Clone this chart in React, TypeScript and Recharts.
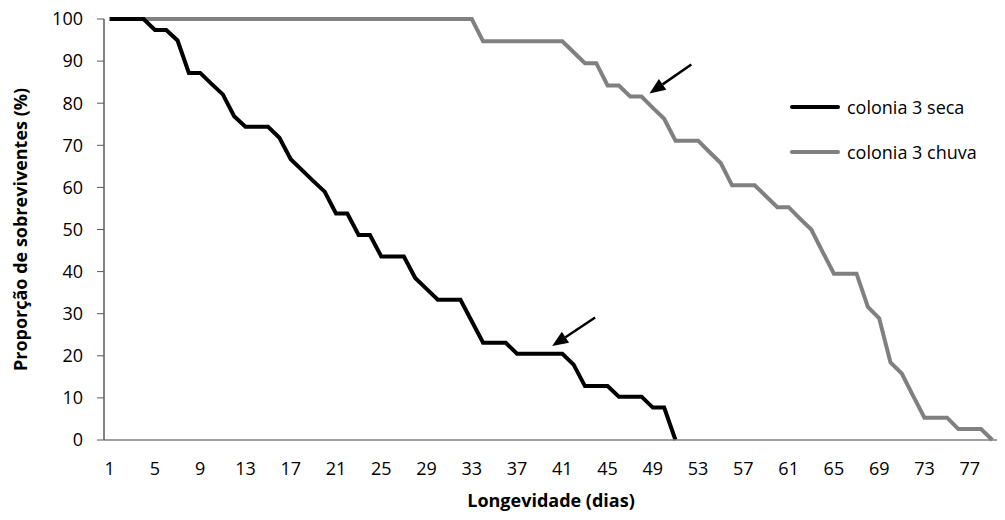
import { Line, LineChart, ReferenceLine, XAxis, YAxis } from "recharts";

// dias (categorias do eixo x)
const days = Array.from({ length: 79 }, (_, i) => i + 1);

// proporção de sobreviventes (%) - colonia 3 seca
const seca = [
  100, 100, 100, 100, 97.4, 97.4, 94.9, 87.2, 87.2, 84.6, 82.1, 76.9, 74.4, 74.4, 74.4, 71.8, 66.7, 64.1, 61.5, 59.0,
  53.8, 53.8, 48.7, 48.7, 43.6, 43.6, 43.6, 38.5, 35.9, 33.3, 33.3, 33.3, 28.2, 23.1, 23.1, 23.1, 20.5, 20.5, 20.5, 20.5,
  20.5, 17.9, 12.8, 12.8, 12.8, 10.3, 10.3, 10.3, 7.7, 7.7, 0,
];

// proporção de sobreviventes (%) - colonia 3 chuva
const chuva = [
  100, 100, 100, 100, 100, 100, 100, 100, 100, 100, 100, 100, 100, 100, 100, 100, 100, 100, 100, 100,
  100, 100, 100, 100, 100, 100, 100, 100, 100, 100, 100, 100, 100, 94.7, 94.7, 94.7, 94.7, 94.7, 94.7, 94.7,
  94.7, 92.1, 89.5, 89.5, 84.2, 84.2, 81.6, 81.6, 78.9, 76.3, 71.1, 71.1, 71.1, 68.4, 65.8, 60.5, 60.5, 60.5, 57.9, 55.3,
  55.3, 52.6, 50.0, 44.7, 39.5, 39.5, 39.5, 31.6, 28.9, 18.4, 15.8, 10.5, 5.3, 5.3, 5.3, 2.6, 2.6, 2.6, 0,
];

const xTicks = [1, 5, 9, 13, 17, 21, 25, 29, 33, 37, 41, 45, 49, 53, 57, 61, 65, 69, 73, 77];
const yTicks = [0, 10, 20, 30, 40, 50, 60, 70, 80, 90, 100];

// setas de anotação, em coordenadas de dados (dia, %)
const arrows = [
  { from: { x: 52.4, y: 89.2 }, to: { x: 48.7, y: 82.3 } },
  { from: { x: 43.9, y: 29.1 }, to: { x: 40.1, y: 22.3 } },
];

const data = days.map((day, i) => ({
  day,
  seca: i < seca.length ? seca[i] : null,
  chuva: chuva[i],
}));

const FONT = "'Open Sans', 'Noto Sans', sans-serif";

function arrowShape(props: any) {
  const { x1, y1, x2, y2 } = props;
  const ang = Math.atan2(y2 - y1, x2 - x1);
  const len = 16;
  const half = 6.5;
  const bx = x2 - len * Math.cos(ang);
  const by = y2 - len * Math.sin(ang);
  const px = -Math.sin(ang) * half;
  const py = Math.cos(ang) * half;
  return (
    <g>
      <line x1={x1} y1={y1} x2={bx} y2={by} stroke="#000" strokeWidth={2.5} />
      <polygon points={`${x2},${y2} ${bx + px},${by + py} ${bx - px},${by - py}`} fill="#000" />
    </g>
  );
}

function LegendBox() {
  const items = [
    { label: "colonia 3 seca", color: "#000000", top: 95 },
    { label: "colonia 3 chuva", color: "#808080", top: 140 },
  ];
  return (
    <>
      {items.map((it) => (
        <div
          key={it.label}
          style={{
            position: "absolute",
            top: it.top,
            left: 790,
            display: "flex",
            alignItems: "center",
            height: 24,
            fontFamily: FONT,
            fontSize: 18,
          }}
        >
          <div style={{ width: 50, height: 4, background: it.color, borderRadius: 2, marginRight: 7 }} />
          <span style={{ color: "#000", whiteSpace: "nowrap" }}>{it.label}</span>
        </div>
      ))}
    </>
  );
}

export default function App() {
  return (
    <div style={{ margin: -8, width: 1005, height: 520, background: "#fff", position: "relative" }}>
      <LineChart
        width={1005}
        height={520}
        data={data}
        margin={{ top: 19, right: 7, bottom: 0, left: 0 }}
        style={{ fontFamily: FONT }}
      >
        <XAxis
          dataKey="day"
          type="number"
          domain={[0.5, 79.5]}
          ticks={xTicks}
          interval={0}
          height={80}
          tickLine={false}
          tickSize={0}
          tickMargin={22}
          axisLine={{ stroke: "#7f7f7f", strokeWidth: 1.5 }}
          tick={{ fill: "#000", fontSize: 18 }}
          label={{
            content: ({ viewBox }: any) => (
              <text
                x={viewBox.x + viewBox.width / 2}
                y={507}
                textAnchor="middle"
                fontWeight="bold"
                fontSize={18}
                fill="#000"
                fontFamily={FONT}
              >
                Longevidade (dias)
              </text>
            ),
          }}
        />
        <YAxis
          domain={[0, 100]}
          ticks={yTicks}
          interval={0}
          width={104}
          tickSize={7}
          tickMargin={14}
          tickLine={{ stroke: "#595959" }}
          axisLine={{ stroke: "#595959", strokeWidth: 1.5 }}
          tick={{ fill: "#000", fontSize: 18 }}
          label={{
            content: ({ viewBox }: any) => {
              const cx = 20;
              const cy = viewBox.y + viewBox.height / 2;
              return (
                <text
                  x={cx}
                  y={cy}
                  transform={`rotate(-90 ${cx} ${cy})`}
                  textAnchor="middle"
                  dominantBaseline="central"
                  fontWeight="bold"
                  fontSize={18}
                  fill="#000"
                  fontFamily={FONT}
                >
                  Proporção de sobreviventes (%)
                </text>
              );
            },
          }}
        />
        <Line
          dataKey="chuva"
          name="colonia 3 chuva"
          type="linear"
          stroke="#808080"
          strokeWidth={4}
          dot={false}
          isAnimationActive={false}
        />
        <Line
          dataKey="seca"
          name="colonia 3 seca"
          type="linear"
          stroke="#000000"
          strokeWidth={4}
          dot={false}
          isAnimationActive={false}
        />
        {arrows.map((a, i) => (
          <ReferenceLine key={i} segment={[a.from, a.to]} shape={arrowShape} ifOverflow="visible" />
        ))}
      </LineChart>
      <LegendBox />
    </div>
  );
}
